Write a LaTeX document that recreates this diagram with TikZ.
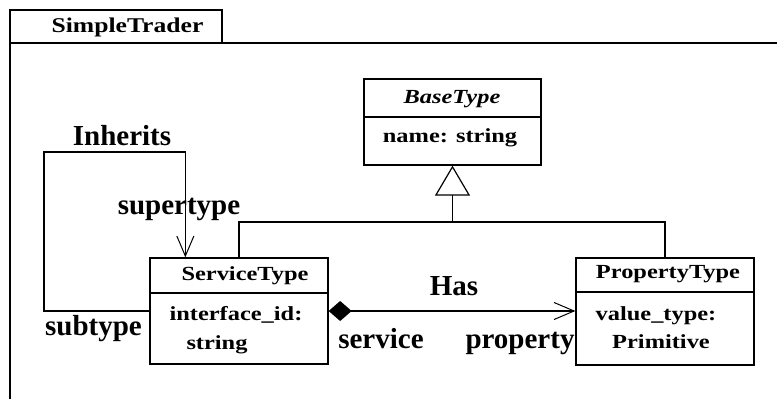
\documentclass[tikz,border=0pt]{standalone}
\usepackage{fontspec}
\setmainfont{Liberation Serif}
\newfontfamily\widefont[FakeStretch=1.22]{Liberation Serif}
\usetikzlibrary{arrows.meta}

\tikzset{
  umlbox/.style={draw, line width=1.3pt, inner sep=0pt},
  frameline/.style={line width=1.4pt},
  conn/.style={line width=1.2pt},
  boxtext/.style={anchor=base, inner sep=0pt, font=\widefont\fontsize{20}{24}\selectfont\bfseries},
  lbl/.style={anchor=base, inner sep=0pt, font=\fontsize{29}{32}\selectfont\bfseries},
  navarrow/.style={-{Straight Barb[length=20pt,width=17pt,line width=1pt]}},
  genarrow/.style={-{Triangle[open,length=30pt,width=35pt,line width=1.2pt]}},
  comparrow/.style={{Diamond[length=23pt,width=20pt]}-{Straight Barb[length=20pt,width=17pt,line width=1pt]}}
}

\begin{document}
\begin{tikzpicture}[x=1pt,y=-1pt]
\useasboundingbox (0,0) rectangle (777,399);

% package frame with its name tab
\draw[frameline] (10,399) -- (10,10) -- (222,10) -- (222,43);
\draw[frameline] (10,43) -- (777,43);
\node[boxtext, font=\widefont\fontsize{21}{24}\selectfont\bfseries] (pkg) at (127.5,32) {SimpleTrader};

% classes
\node[umlbox, minimum width=177pt, minimum height=86pt] (base) at (452.5,122) {};
\draw[line width=1.3pt] (base.west |- 0,117) -- (base.east |- 0,117);
\node[boxtext] (baseName) at (452,103) {\itshape BaseType};
\node[boxtext] (baseAttr) at (450,142) {name: string};

\node[umlbox, minimum width=178pt, minimum height=106pt] (st) at (239,311) {};
\draw[line width=1.3pt] (st.west |- 0,293) -- (st.east |- 0,293);
\node[boxtext] (stName) at (245,280) {ServiceType};
\node[boxtext] (stAttr1) at (236,320) {interface\_id:};
\node[boxtext] (stAttr2) at (217,349) {string};

\node[umlbox, minimum width=178pt, minimum height=107pt] (pt) at (665,311.5) {};
\draw[line width=1.3pt] (pt.west |- 0,292) -- (pt.east |- 0,292);
\node[boxtext] (ptName) at (668,278) {PropertyType};
\node[boxtext] (ptAttr1) at (656,320) {value\_type:};
\node[boxtext] (ptAttr2) at (661,348) {Primitive};

% generalization to BaseType
\coordinate (gen) at (452.5,222);
\draw[conn, genarrow] (gen) -- (base.south);
\draw[conn] (st.north) |- (gen) -| (pt.north);

% Has association
\draw[conn, comparrow] (st.east) -- (st.east -| pt.west);
\node[lbl] (has) at (454,295) {Has};
\node[lbl] (svc) at (381,348) {service};
\node[lbl] (prop) at (520,348) {property};

% Inherits self association
\coordinate (loopTop) at (44,152);
\draw[conn, navarrow] (st.west) -| (loopTop) -| ([xshift=36pt]st.north west);
\node[lbl] (inh) at (122,145) {Inherits};
\node[lbl] (sup) at (179,214) {supertype};
\node[lbl] (sub) at (93.5,335) {subtype};
\end{tikzpicture}
\end{document}
